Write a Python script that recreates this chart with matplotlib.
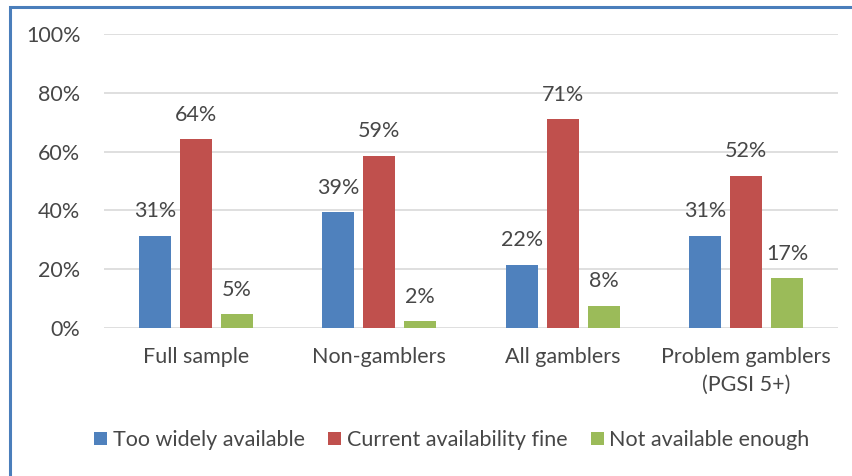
import matplotlib
matplotlib.use("Agg")
import matplotlib.pyplot as plt
from matplotlib.patches import Rectangle
import numpy as np

categories = ["Full sample", "Non-gamblers", "All gamblers", "Problem gamblers\n(PGSI 5+)"]
series_names = ["Too widely available", "Current availability fine", "Not available enough"]
too_wide = [31.3, 39.3, 21.5, 31.3]
fine = [64.2, 58.5, 71.0, 51.8]
not_enough = [4.6, 2.3, 7.5, 16.9]
labels_too_wide = ["31%", "39%", "22%", "31%"]
labels_fine = ["64%", "59%", "71%", "52%"]
labels_not_enough = ["5%", "2%", "8%", "17%"]
yticks = [0, 20, 40, 60, 80, 100]
ytick_labels = ["0%", "20%", "40%", "60%", "80%", "100%"]

colors = ["#4F81BD", "#C0504D", "#9BBB59"]
text_color = "#474747"
plt.rcParams['font.family'] = ['Lato', 'DejaVu Sans']
fs = 15.5

fig = plt.figure(figsize=(8.52, 4.76), dpi=100)
ax = fig.add_axes([104/852, 1-328/476, (838-104)/852, (328-34)/476])

x = np.arange(len(categories))
w = 0.174
off = 0.223
series = [too_wide, fine, not_enough]
labs = [labels_too_wide, labels_fine, labels_not_enough]
for i, (vals, lab) in enumerate(zip(series, labs)):
    bars = ax.bar(x + (i-1)*off, vals, width=w, color=colors[i], label=series_names[i], zorder=3)
    for b, t in zip(bars, lab):
        ax.text(b.get_x()+b.get_width()/2, b.get_height()+5.0, t, ha='center', va='bottom',
                fontsize=fs, color=text_color)

ax.set_xlim(-0.5, 3.5)
ax.set_ylim(0, 100)
ax.set_yticks(yticks)
ax.set_yticklabels(ytick_labels, fontsize=fs, color=text_color)
ax.set_xticks(x)
ax.set_xticklabels(categories, fontsize=fs, color=text_color, linespacing=1.45)
ax.tick_params(axis='both', length=0)
ax.tick_params(axis='y', pad=17)
ax.tick_params(axis='x', pad=14)
ax.grid(axis='y', color='#D9D9D9', linewidth=1.2, zorder=0)
for s in ax.spines.values():
    s.set_visible(False)

fig.legend(loc='center', bbox_to_anchor=(452/852, 1-440/476), ncol=3, frameon=False,
           fontsize=fs, handlelength=0.6, handleheight=0.6, handletextpad=0.25,
           columnspacing=1.1, labelcolor=text_color)

fig.patches.append(Rectangle((9.5/852, -0.1), 1.0, 1.1 - 6.5/476, transform=fig.transFigure,
                             fill=False, edgecolor='#4A7EBB', linewidth=2.2, zorder=10))

fig.savefig("out.png", dpi=100)
